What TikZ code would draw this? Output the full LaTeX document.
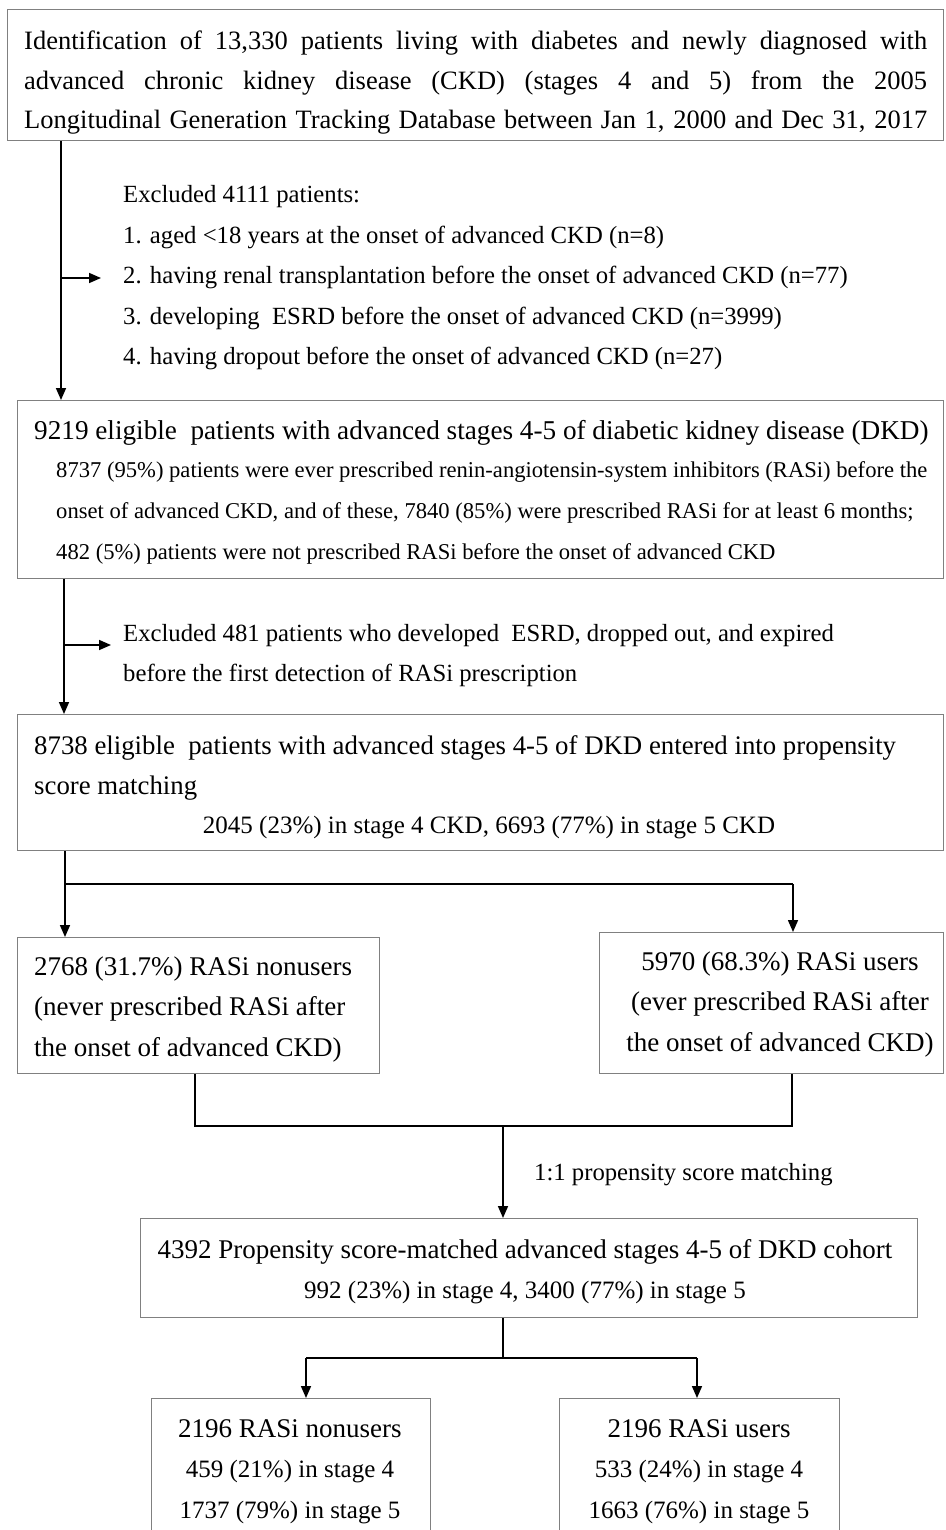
\documentclass[tikz,border=0pt]{standalone}
\usepackage{fontspec}
\setmainfont{Liberation Serif}
\usetikzlibrary{arrows.meta}
\newcommand{\fA}{\fontsize{26.5}{39.5}\selectfont}
\newcommand{\fB}{\fontsize{24.7}{40.5}\selectfont}
\newcommand{\fC}{\fontsize{22.6}{41}\selectfont}
\newcommand{\fD}{\fontsize{25}{40.5}\selectfont}
\newcommand{\fE}{\fontsize{27}{40.5}\selectfont}
\tikzset{
  box/.style={draw=black!50, line width=1.3pt, inner sep=0pt, anchor=north west},
  conn/.style={draw=black, line width=1.6pt},
  arr/.style={conn, -{Triangle[length=12pt,width=10pt]}},
  txt/.style={inner sep=0pt, anchor=base west},
  txtc/.style={inner sep=0pt, anchor=base},
}
\begin{document}
\begin{tikzpicture}[x=1pt,y=-1pt]
\useasboundingbox (0,0) rectangle (945,1530);
% boxes
\node[box, minimum width=936pt, minimum height=131pt] (b1) at (7,9) {};
\node[box, minimum width=926pt, minimum height=178pt] (b2) at (17,400) {};
\node[box, minimum width=926pt, minimum height=136pt] (b3) at (17,714) {};
\node[box, minimum width=362pt, minimum height=136pt] (b4l) at (17,937) {};
\node[box, minimum width=344pt, minimum height=141pt] (b4r) at (599,932) {};
\node[box, minimum width=777pt, minimum height=99pt] (b5) at (140,1218) {};
\node[box, minimum width=279pt, minimum height=150pt] (b6l) at (151,1398) {};
\node[box, minimum width=280pt, minimum height=150pt] (b6r) at (559,1398) {};
% texts
\node[txt] (t1) at (24,50) {\parbox[t]{903pt}{\fA\hyphenpenalty=10000\tolerance=9999\parfillskip=0pt
Identification of 13,330 patients living with diabetes and newly diagnosed with\linebreak
advanced chronic kidney disease (CKD) (stages 4 and 5) from the 2005\linebreak
Longitudinal Generation Tracking Database between Jan 1, 2000 and Dec 31, 2017}};
\node[txt] (ex1) at (123,203) {\parbox[t]{800pt}{\fB\raggedright
Excluded 4111 patients:\\
1. aged <18 years at the onset of advanced CKD (n=8)\\
2. having renal transplantation before the onset of advanced CKD (n=77)\\
3. developing \ ESRD before the onset of advanced CKD (n=3999)\\
4. having dropout before the onset of advanced CKD (n=27)}};
\node[txt] (t2a) at (34,439) {\fontsize{27.2}{40}\selectfont 9219 eligible \ patients with advanced stages 4-5 of diabetic kidney disease (DKD)};
\node[txt] (t2b) at (56,477) {\parbox[t]{880pt}{\fC\raggedright
8737 (95\%) patients were ever prescribed renin-angiotensin-system inhibitors (RASi) before the\\
onset of advanced CKD, and of these, 7840 (85\%) were prescribed RASi for at least 6 months;\\
482 (5\%) patients were not prescribed RASi before the onset of advanced CKD}};
\node[txt] (ex2) at (123,641) {\parbox[t]{800pt}{\fB\raggedright
Excluded 481 patients who developed \ ESRD, dropped out, and expired\\
before the first detection of RASi prescription}};
\node[txt] (t3a) at (34,754) {\parbox[t]{880pt}{\fontsize{26.8}{40}\selectfont\raggedright
8738 eligible \ patients with advanced stages 4-5 of DKD entered into propensity\\
score matching}};
\node[txtc] (t3b) at (489,833) {\fD 2045 (23\%) in stage 4 CKD, 6693 (77\%) in stage 5 CKD};
\node[txt] (t4l) at (34,975) {\parbox[t]{345pt}{\fE\raggedright
2768 (31.7\%) RASi nonusers\\
(never prescribed RASi after\\
the onset of advanced CKD)}};
\node[txtc] (t4r) at (780,970) {\parbox[t]{345pt}{\fE\centering
5970 (68.3\%) RASi users\\
(ever prescribed RASi after\\
the onset of advanced CKD)}};
\node[txt] (lab) at (534,1180) {\fB 1:1 propensity score matching};
\node[txtc] (t5) at (525,1258) {\parbox[t]{770pt}{\fD\centering
{\fE 4392 Propensity score-matched advanced stages 4-5 of DKD cohort}\\
992 (23\%) in stage 4, 3400 (77\%) in stage 5}};
\node[txtc] (t6l) at (290,1437) {\parbox[t]{270pt}{\fD\centering
{\fE 2196 RASi nonusers}\\
459 (21\%) in stage 4\\
1737 (79\%) in stage 5}};
\node[txtc] (t6r) at (699,1437) {\parbox[t]{270pt}{\fD\centering
{\fE 2196 RASi users}\\
533 (24\%) in stage 4\\
1663 (76\%) in stage 5}};
% connector coordinates
\coordinate (v1) at (61,278);
\coordinate (v1e) at (101,278);
\coordinate (v2) at (64,645);
\coordinate (v2e) at (111,645);
\coordinate (s3) at (65,884);
\coordinate (s3r) at (793,884);
\coordinate (j4l) at (195,1126);
\coordinate (j4r) at (792,1126);
\coordinate (j4) at (503,1126);
\coordinate (s5) at (503,1358);
\coordinate (s5l) at (306,1358);
\coordinate (s5r) at (697,1358);
% connectors
\draw[arr] (b1.south -| v1) -- (b2.north -| v1);
\draw[arr] (v1) -- (v1e);
\draw[arr] (b2.south -| v2) -- (b3.north -| v2);
\draw[arr] (v2) -- (v2e);
\draw[conn] (b3.south -| s3) -- (s3) -- (s3r);
\draw[arr] (s3) -- (b4l.north -| s3);
\draw[arr] (s3r) -- (b4r.north -| s3r);
\draw[conn] (b4l.south -| j4l) -- (j4l) -- (j4r) -- (b4r.south -| j4r);
\draw[arr] (j4) -- (b5.north -| j4);
\draw[conn] (b5.south -| s5) -- (s5);
\draw[conn] (s5l) -- (s5r);
\draw[arr] (s5l) -- (b6l.north -| s5l);
\draw[arr] (s5r) -- (b6r.north -| s5r);
\end{tikzpicture}
\end{document}
